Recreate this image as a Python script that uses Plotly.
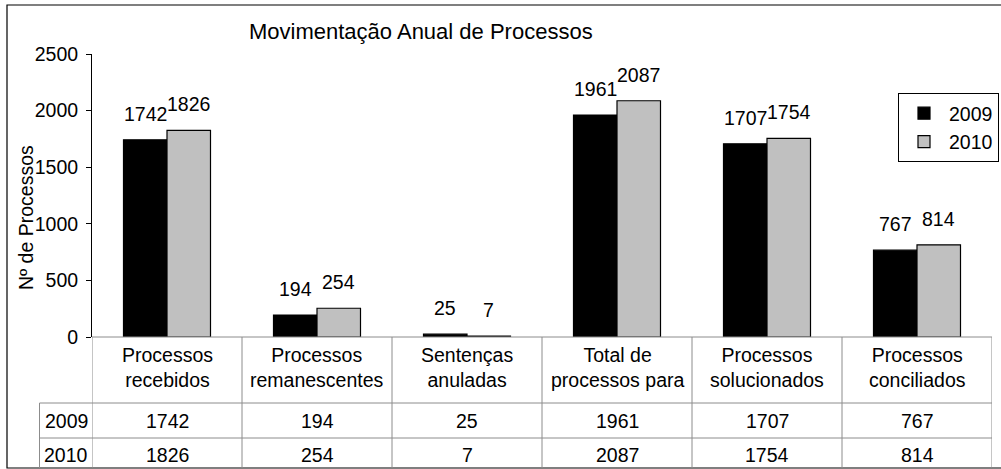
import plotly.graph_objects as go

categories = ["Processos<br>recebidos", "Processos<br>remanescentes", "Sentenças<br>anuladas",
              "Total de<br>processos para", "Processos<br>solucionados", "Processos<br>conciliados"]
series_names = ["2009", "2010"]
values_2009 = [1742, 194, 25, 1961, 1707, 767]
values_2010 = [1826, 254, 7, 2087, 1754, 814]
title_text = "Movimentação Anual de Processos"
y_title = "Nº de Processos"

FONT = "Liberation Sans, Arial, sans-serif"
FS = 19.5
GRID = "#8c8c8c"

W, H = 1001, 469
L, T = 92, 54
PW, PH = 900, 283
R, B = W - L - PW, H - T - PH

def px(xs):
    return (xs - L) / PW

def py(ys):
    return (T + PH - ys) / PH

fig = go.Figure()
fig.add_trace(go.Bar(x=categories, y=values_2009, name=series_names[0],
                     marker=dict(color="#000000", line=dict(color="#000000", width=1.2)),
                     legendgroup="a"))
fig.add_trace(go.Bar(x=categories, y=values_2010, name=series_names[1],
                     marker=dict(color="#c0c0c0", line=dict(color="#000000", width=1.2)),
                     legendgroup="b"))

bargap = 0.42
half = PW / len(categories) * (1 - bargap) / 4

def txt(**kw):
    base = dict(showarrow=False, xanchor="center", yanchor="middle",
                font=dict(family=FONT, size=FS, color="#000"))
    base.update(kw)
    return base

annotations = []
for cat, v in zip(categories, values_2009):
    annotations.append(txt(x=cat, y=v, xref="x", yref="y", text=str(v),
                           xshift=-half, yshift=13, yanchor="bottom"))
for cat, v in zip(categories, values_2010):
    annotations.append(txt(x=cat, y=v, xref="x", yref="y", text=str(v),
                           xshift=half, yshift=13, yanchor="bottom"))

# data table text
for cat in categories:
    annotations.append(txt(x=cat, y=py(367), xref="x", yref="paper", text=cat))
for cat, v in zip(categories, values_2009):
    annotations.append(txt(x=cat, y=py(421), xref="x", yref="paper", text=str(v)))
for cat, v in zip(categories, values_2010):
    annotations.append(txt(x=cat, y=py(455), xref="x", yref="paper", text=str(v)))
annotations.append(txt(x=px(66), y=py(421), xref="paper", yref="paper", text=series_names[0]))
annotations.append(txt(x=px(66), y=py(455), xref="paper", yref="paper", text=series_names[1]))

# title and y title
annotations.append(txt(x=px(421), y=py(32), xref="paper", yref="paper", text=title_text,
                       font=dict(family=FONT, size=22, color="#000")))
annotations.append(txt(x=px(26), y=py(218), xref="paper", yref="paper", text=y_title, textangle=-90))

n = len(categories)
shapes = []
# outer border (left, top, bottom edges; right edge lies beyond the picture)
shapes.append(dict(type="path", xref="paper", yref="paper",
                   path=f"M {px(1100)},{py(5)} L {px(7)},{py(5)} L {px(7)},{py(468)} L {px(1100)},{py(468)}",
                   line=dict(color="#000", width=1.2), layer="below"))
# x axis / table top line
shapes.append(dict(type="line", xref="x", yref="paper", x0=-0.5, x1=n - 0.5, y0=0, y1=0,
                   line=dict(color=GRID, width=1)))
# vertical table lines
for i in range(n + 1):
    shapes.append(dict(type="line", xref="x", yref="paper", x0=i - 0.5, x1=i - 0.5, y0=0, y1=py(468),
                       line=dict(color=GRID, width=1)))
# row label column left edge
shapes.append(dict(type="line", xref="paper", yref="paper", x0=px(39.5), x1=px(39.5), y0=py(403), y1=py(468),
                   line=dict(color=GRID, width=1)))
for yy in (403, 438):
    shapes.append(dict(type="line", xref="paper", yref="paper", x0=px(39.5), x1=1, y0=py(yy), y1=py(yy),
                       line=dict(color=GRID, width=1)))

fig.update_layout(
    width=W, height=H,
    margin=dict(l=L, r=R, t=T, b=B, pad=0, autoexpand=False),
    paper_bgcolor="white", plot_bgcolor="white",
    barmode="group", bargap=bargap, bargroupgap=0,
    font=dict(family=FONT, size=FS, color="#000"),
    xaxis=dict(type="category", range=[-0.5, n - 0.5], showticklabels=False, ticks="",
               showline=False, showgrid=False, zeroline=False, fixedrange=True),
    yaxis=dict(range=[0, 2500], dtick=500, ticks="outside", ticklen=5, tickcolor="#000",
               showline=True, linecolor="#000", linewidth=1, showgrid=False, zeroline=False,
               tickfont=dict(family=FONT, size=FS, color="#000"), ticklabelstandoff=4),
    legend=dict(x=px(898), y=py(93), xanchor="left", yanchor="top",
                bordercolor="#000", borderwidth=1, bgcolor="white",
                font=dict(family=FONT, size=FS, color="#000"),
                traceorder="grouped", tracegroupgap=0, itemwidth=40),
    annotations=annotations,
    shapes=shapes,
    showlegend=True,
)

fig.write_html("out.html", config={"displayModeBar": False},
               post_script="document.body.style.margin='0px';document.body.style.overflow='hidden';")
